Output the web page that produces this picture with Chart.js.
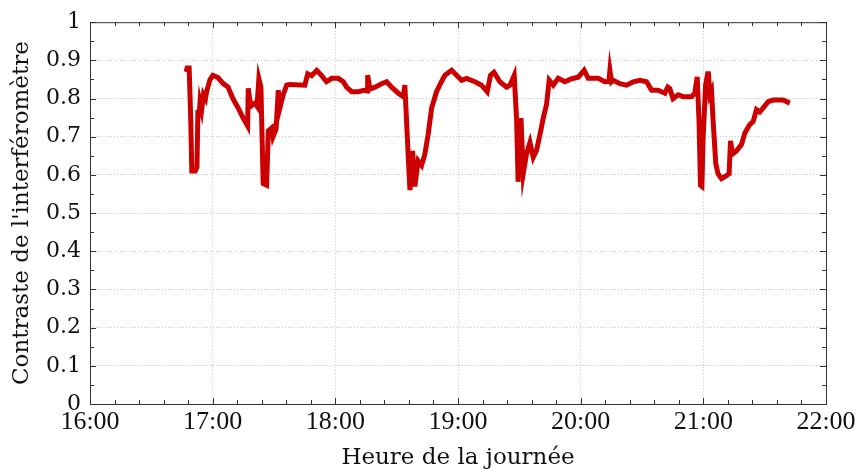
<!DOCTYPE html>
<html>
<head>
<meta charset="utf-8">
<script src="https://cdn.jsdelivr.net/npm/chart.js@4"></script>
<style>
  html, body { margin: 0; padding: 0; background: #fff; }
  #wrap { width: 859px; height: 472px; }
</style>
</head>
<body>
<div id="wrap"><canvas id="contraste"></canvas></div>
<script>
// minutes after 16:00
const minutes = [
  47.0, 47.5, 48.5, 49.3, 49.8, 51.5, 52.3, 52.8, 53.3, 53.8, 54.6, 55.5, 56.5, 57.1, 58.7,
  60.1, 62.6, 65.0, 67.5, 69.9, 72.4, 74.8, 77.1, 77.4, 78.6, 80.7, 81.7, 82.6, 83.6,
  84.7, 86.4, 87.2, 88.9, 89.5, 91.0, 92.1, 92.9, 94.5, 96.2, 97.8,
  105.1, 106.5, 108.4, 110.9, 113.3, 115.7, 118.2, 121.4, 123.9, 125.5, 128.0, 131.2,
  134.5, 135.5, 135.8, 136.9, 139.4, 142.6, 145.1, 147.5, 150.8, 153.2,
  154.0, 155.6, 156.5, 157.8, 158.9, 160.5, 162.2, 163.8, 165.4, 167.1, 169.5, 171.9,
  173.6, 176.9, 179.3, 181.8, 184.2, 188.3, 191.5, 194.3, 195.9, 197.6, 200.5, 203.8,
  205.4, 207.5, 208.7, 209.4, 210.8, 211.9, 213.5, 215.2, 216.8, 218.4, 220.1, 221.7,
  223.3, 224.6, 226.6, 229.0, 232.3, 235.6, 238.8, 241.7, 243.7, 248.6, 251.8, 253.8,
  254.3, 255.1,
  255.9, 259.2, 262.5, 265.7, 269.0, 272.2, 274.7, 277.9, 281.2, 282.6, 283.6, 285.2,
  287.7, 290.1, 294.2, 295.8, 297.0, 297.9, 298.6, 299.3, 299.9, 301.1, 302.1, 302.5,
  303.2, 304.0, 304.8, 306.1, 307.2, 308.9, 311.3, 312.6, 313.3, 314.3, 316.2, 318.7,
  320.3, 322.7, 324.4, 326.0, 327.6, 329.2, 331.7, 334.1, 336.6, 339.0, 342.3
];
const contrast = [
  0.87, 0.88, 0.88, 0.74, 0.61, 0.61, 0.62, 0.77, 0.75, 0.79, 0.77, 0.81, 0.80, 0.82, 0.85,
  0.861, 0.855, 0.84, 0.83, 0.80, 0.776, 0.75, 0.728, 0.827, 0.78, 0.788, 0.78, 0.852, 0.83,
  0.577, 0.573, 0.715, 0.723, 0.70, 0.72, 0.822, 0.776, 0.81, 0.835, 0.837,
  0.835, 0.865, 0.86, 0.874, 0.86, 0.844, 0.853, 0.853, 0.844, 0.83, 0.818, 0.818,
  0.822, 0.82, 0.861, 0.825, 0.83, 0.839, 0.844, 0.83, 0.814, 0.805,
  0.835, 0.655, 0.56, 0.663, 0.57, 0.637, 0.625, 0.655, 0.706, 0.775, 0.818, 0.844,
  0.861, 0.874, 0.861, 0.848, 0.853, 0.844, 0.835, 0.818, 0.861, 0.869, 0.844, 0.83,
  0.835, 0.861, 0.74, 0.582, 0.749, 0.603, 0.655, 0.685, 0.646, 0.664, 0.706, 0.749,
  0.784, 0.848, 0.835, 0.853, 0.844, 0.852, 0.856, 0.874, 0.853, 0.853, 0.844, 0.845,
  0.874, 0.844,
  0.848, 0.839, 0.835, 0.844, 0.848, 0.844, 0.822, 0.822, 0.814, 0.83, 0.826, 0.80,
  0.81, 0.805, 0.805, 0.814, 0.857, 0.74, 0.573, 0.57, 0.698, 0.835, 0.865, 0.865,
  0.81, 0.82, 0.74, 0.629, 0.603, 0.59, 0.598, 0.603, 0.689, 0.655, 0.663, 0.68,
  0.71, 0.732, 0.74, 0.771, 0.765, 0.775, 0.792, 0.796, 0.796, 0.796, 0.788
];
const hourLabels = ['16:00', '17:00', '18:00', '19:00', '20:00', '21:00', '22:00'];
const yTicks = [0, 0.1, 0.2, 0.3, 0.4, 0.5, 0.6, 0.7, 0.8, 0.9, 1];

const points = minutes.map((m, i) => ({ x: m, y: contrast[i] }));

// box frame with inward major/minor ticks on all four sides
const frameTicks = {
  id: 'frameTicks',
  afterDraw(chart) {
    const { ctx, chartArea: a, scales: { x, y } } = chart;
    ctx.save();
    ctx.strokeStyle = '#333';
    ctx.lineWidth = 1;
    ctx.strokeRect(a.left + 0.5, a.top + 0.5, a.right - a.left, a.bottom - a.top);
    ctx.beginPath();
    for (let m = 0; m <= 360; m += 12) {
      const px = Math.round(x.getPixelForValue(m)) + 0.5;
      const len = m % 60 === 0 ? 6 : 4;
      ctx.moveTo(px, a.bottom); ctx.lineTo(px, a.bottom - len);
      ctx.moveTo(px, a.top); ctx.lineTo(px, a.top + len);
    }
    for (let k = 0; k <= 20; k++) {
      const py = Math.round(y.getPixelForValue(k * 0.05)) + 0.5;
      const len = k % 2 === 0 ? 6 : 4;
      ctx.moveTo(a.left, py); ctx.lineTo(a.left + len, py);
      ctx.moveTo(a.right, py); ctx.lineTo(a.right - len, py);
    }
    ctx.stroke();
    ctx.restore();
  }
};

new Chart(document.getElementById('contraste'), {
  type: 'line',
  data: {
    datasets: [{
      data: points,
      borderColor: '#cc0000',
      borderWidth: 5,
      pointRadius: 0,
      tension: 0,
      fill: false
    }]
  },
  options: {
    responsive: true,
    maintainAspectRatio: false,
    animation: false,
    layout: { padding: { top: 17, right: 33, left: 0, bottom: 0 } },
    plugins: { legend: { display: false }, tooltip: { enabled: false } },
    scales: {
      x: {
        type: 'linear',
        min: 0,
        max: 360,
        afterFit: s => { s.height = 68; },
        afterBuildTicks: s => { s.ticks = hourLabels.map((_, i) => ({ value: i * 60 })); },
        ticks: {
          padding: 3,
          color: '#111',
          font: { family: 'Liberation Serif', size: 26 },
          callback: (v) => hourLabels[v / 60]
        },
        grid: { color: '#c8c8c8', drawTicks: false },
        border: { display: false, dash: [1, 2] },
        title: {
          display: true,
          text: 'Heure de la journée',
          color: '#111',
          font: { family: 'DejaVu Serif', size: 23 },
          padding: { top: 0, bottom: 0 }
        }
      },
      y: {
        min: 0,
        max: 1,
        afterFit: s => { s.width = 90; },
        afterBuildTicks: s => { s.ticks = yTicks.map(v => ({ value: v })); },
        ticks: {
          padding: 9,
          color: '#111',
          font: { family: 'DejaVu Serif', size: 22 },
          callback: (v) => String(Math.round(v * 10) / 10)
        },
        grid: { color: '#c8c8c8', drawTicks: false },
        border: { display: false, dash: [1, 2] },
        title: {
          display: true,
          text: "Contraste de l'interféromètre",
          color: '#111',
          font: { family: 'DejaVu Serif', size: 23 },
          padding: { top: 8, bottom: 0 }
        }
      }
    }
  },
  plugins: [frameTicks]
});
</script>
</body>
</html>
